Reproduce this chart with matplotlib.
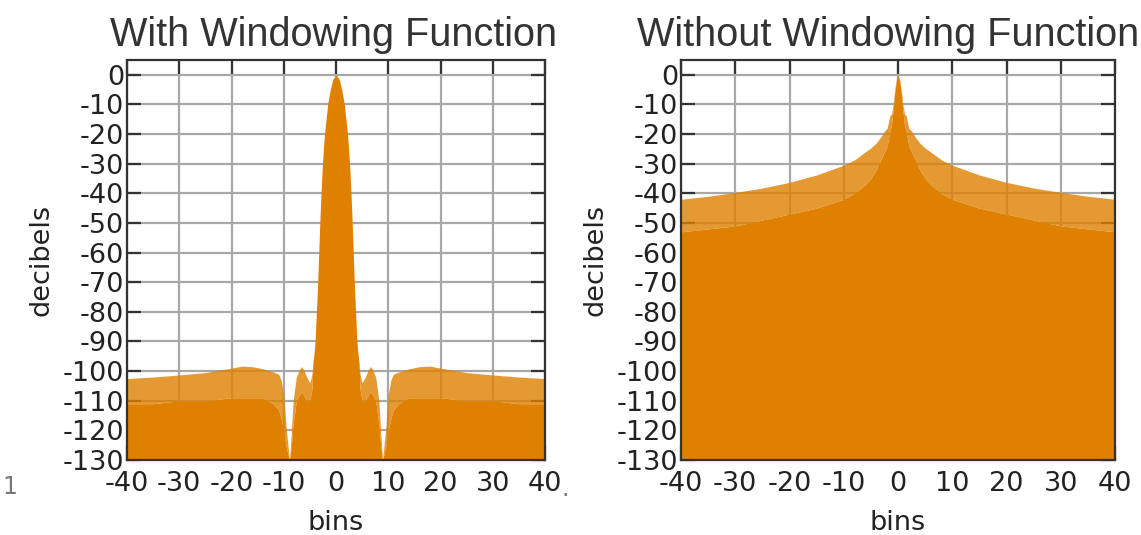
import matplotlib
matplotlib.use("Agg")
import matplotlib.pyplot as plt
import numpy as np

plt.rcParams["axes.unicode_minus"] = False

# ---------------- data ----------------
# With windowing: upper envelope of the spectrum (dB) and level below which the fill is solid
win_x = [-40, -35, -30, -25, -20, -18, -16, -14, -12, -11, -10.5, -10.0, -9.6, -9.2, -8.9,
         -8.6, -8.2, -7.6, -7.0, -6.6, -6.2, -5.6, -5.0, -4.6, -4.4, -4.2, -4.0, -3.75,
         -3.5, -3.3, -3.1, -2.87, -2.6, -2.2, -1.6, -1.1, -0.6, 0,
         0.6, 1.1, 1.6, 2.2, 2.6, 2.87, 3.1, 3.3, 3.5, 3.75, 4.0, 4.2, 4.4, 4.6, 5.0,
         5.6, 6.2, 6.6, 7.0, 7.6, 8.2, 8.6, 8.9, 9.2, 9.6, 10.0, 10.5, 11, 12, 14, 16,
         18, 20, 25, 30, 35, 40]
win_top = [-102.5, -102.0, -101.3, -100.5, -99.0, -98.3, -98.5, -99.2, -100.3, -101, -103, -108, -118, -125, -130,
           -122, -110, -102, -99.5, -98.5, -99.5, -102, -104, -101, -97, -94, -90, -80,
           -70, -60, -50, -40, -30, -20, -10, -5, -1.5, 0,
           -1.5, -5, -10, -20, -30, -40, -50, -60, -70, -80, -90, -94, -97, -101, -104,
           -102, -99.5, -98.5, -99.5, -102, -110, -122, -130, -125, -118, -108, -103, -101, -100.3, -99.2, -98.5,
           -98.3, -99.0, -100.5, -101.3, -102.0, -102.5]
win_solid = [-111, -111, -110, -110, -109, -109, -109, -109, -111, -113, -116, -120, -125, -128, -130,
             -126, -118, -110, -108, -107, -108, -110, -110, -106, -97, -94, -90, -80,
             -70, -60, -50, -40, -30, -20, -10, -5, -1.5, 0,
             -1.5, -5, -10, -20, -30, -40, -50, -60, -70, -80, -90, -94, -97, -106, -110,
             -110, -108, -107, -108, -110, -118, -126, -130, -128, -125, -120, -116, -113, -111, -109, -109,
             -109, -109, -110, -110, -111, -111]

# Without windowing (rectangular)
nowin_x = [-40, -35, -30, -25, -20, -15, -10, -8, -6, -5, -4, -3, -2.5, -2, -1.5, -1.2, -0.9, -0.6, -0.3, 0,
           0.3, 0.6, 0.9, 1.2, 1.5, 2, 2.5, 3, 4, 5, 6, 8, 10, 15, 20, 25, 30, 35, 40]
nowin_top = [-42, -41, -39.7, -38.2, -36.3, -33.8, -30.5, -28.7, -26, -24.7, -23, -20.5, -19, -18, -13.8, -13.2, -10, -5, -1.5, 0,
             -1.5, -5, -10, -13.2, -13.8, -18, -19, -20.5, -23, -24.7, -26, -28.7, -30.5, -33.8, -36.3, -38.2, -39.7, -41, -42]
nowin_solid = [-53, -52, -51, -49, -47, -45, -42, -40, -37, -35, -32, -28, -26, -24, -19, -17, -12, -6, -2, 0,
               -2, -6, -12, -17, -19, -24, -26, -28, -32, -35, -37, -40, -42, -45, -47, -49, -51, -52, -53]

xticks = [-40, -30, -20, -10, 0, 10, 20, 30, 40]
yticks = [0, -10, -20, -30, -40, -50, -60, -70, -80, -90, -100, -110, -120, -130]
titles = ["With Windowing Function", "Without Windowing Function"]

# ---------------- style ----------------
ORANGE = "#df8000"
W, H = 1141, 535
fig = plt.figure(figsize=(W / 100, H / 100), dpi=100)

ax1 = fig.add_axes([127 / W, 75 / H, 418 / W, 400 / H])
ax2 = fig.add_axes([681 / W, 75 / H, 434 / W, 400 / H])

def style(ax, title, tx):
    ax.set_xlim(-40, 40)
    ax.set_ylim(-130, 5)
    ax.set_xticks(xticks)
    ax.set_yticks(yticks)
    ax.set_axisbelow(True)
    ax.grid(True, color="#a8a8a8", lw=1.6)
    for s in ax.spines.values():
        s.set_color("#333333")
        s.set_linewidth(1.6)
    ax.tick_params(direction="in", length=10, width=1.6, color="#333333",
                   top=True, right=True, labelsize=19.5, labelcolor="#222222")
    ax.tick_params(axis="y", pad=2)
    ax.tick_params(axis="x", pad=8)
    ax.set_xlabel("bins", fontsize=19.5, color="#222222", labelpad=9)
    ax.set_ylabel("decibels", fontsize=19.5, color="#222222", labelpad=6)
    ax.set_title(title, fontsize=28.5, family="Liberation Sans", color="#333333",
                 pad=10, x=tx)

style(ax1, titles[0], 0.495)
style(ax2, titles[1], 0.477)

for ax, xs, top, solid in [(ax1, win_x, win_top, win_solid),
                           (ax2, nowin_x, nowin_top, nowin_solid)]:
    ax.fill_between(xs, -130, solid, color=ORANGE, lw=0, zorder=2)
    ax.fill_between(xs, solid, top, color=ORANGE, alpha=0.8, lw=0, zorder=2)

fig.text(10 / W, 1 - 487 / H, "1", fontsize=17, color="#777777", ha="center", va="center")
fig.text(565 / W, 1 - 489 / H, ".", fontsize=17, color="#777777", ha="center", va="center")

fig.savefig("out.png", dpi=100)
